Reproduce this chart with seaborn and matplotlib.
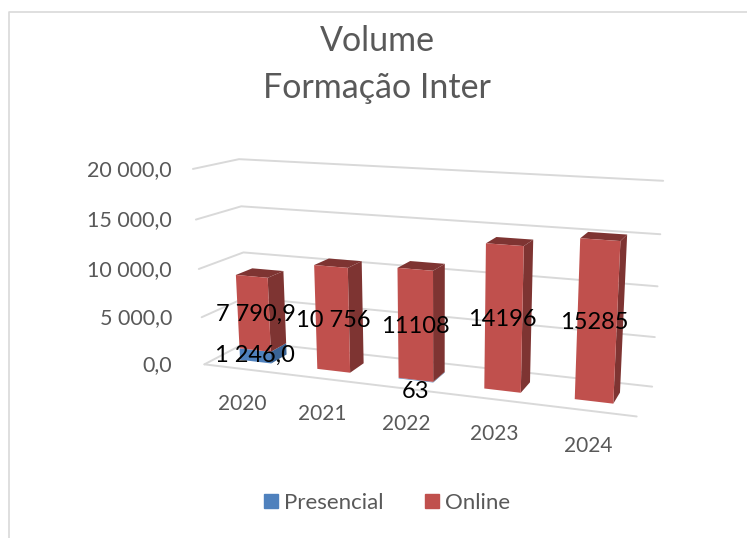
import numpy as np
import pandas as pd
import matplotlib
matplotlib.use("Agg")
import matplotlib.pyplot as plt
import matplotlib.transforms as mtransforms
from matplotlib.patches import Patch, Polygon
import seaborn as sns

years = ["2020", "2021", "2022", "2023", "2024"]
presencial = [1246.0, 0, 63, 0, 0]
online = [7790.9, 10756, 11108, 14196, 15285]
online_labels = ["7 790,9", "10 756", "11108", "14196", "15285"]
presencial_labels = ["1 246,0", "", "63", "", ""]
value_ticks = [0, 5000, 10000, 15000, 20000]
value_tick_labels = ["0,0", "5 000,0", "10 000,0", "15 000,0", "20 000,0"]

BLUE, RED = "#4F81BD", "#C0504D"
BLUE_DARK, RED_DARK = "#3A6496", "#7E3432"
GREY_TEXT, GREY_LINE = "#595959", "#D9D9D9"
FRONT, BACK = 0.3, 0.68  # depth of the bars inside the floor
N_CAT = len(years)
Z_MAX = value_ticks[-1]

# camera calibration: box corners (x, depth, value) -> pixel in the picture
box_world = np.array([
    [0, 0, 0], [0, 0, 1], [0, 1, 0], [0, 1, 1],
    [1, 1, 0], [1, 1, 1], [1, 0, 0],
], dtype=float)
box_pixel = np.array([
    [205, 362], [192, 170], [247, 344], [240, 158],
    [652, 385], [663, 181], [637, 418],
], dtype=float)

rows, rhs = [], []
for (wx, wy, wz), (u, v) in zip(box_world, box_pixel):
    rows.append([wx, wy, wz, 1, 0, 0, 0, 0, -u * wx, -u * wy, -u * wz])
    rows.append([0, 0, 0, 0, wx, wy, wz, 1, -v * wx, -v * wy, -v * wz])
    rhs += [u, v]
cam = np.append(np.linalg.lstsq(np.array(rows), np.array(rhs), rcond=None)[0], 1).reshape(3, 4)


def project(x, depth, z):
    """Category position, depth 0-1 and value to picture pixels"""
    x, depth, z = np.broadcast_arrays(np.asarray(x, float) / N_CAT, depth, np.asarray(z, float) / Z_MAX)
    pts = np.stack([x, depth, z, np.ones_like(x)], axis=-1) @ cam.T
    return pts[..., :2] / pts[..., 2:]


class FaceTransform(mtransforms.Transform):
    """Puts a (category, value) plane at a given depth of the 3D box"""
    input_dims = 2
    output_dims = 2

    def __init__(self, face_depth):
        super().__init__()
        self.face_depth = face_depth

    def transform_non_affine(self, values):
        return project(values[:, 0], self.face_depth, values[:, 1])


sns.set_theme(style="white")
plt.rcParams["font.family"] = ["Lato", "DejaVu Sans"]

fig = plt.figure(figsize=(7.47, 5.38), dpi=100)
ax = fig.add_axes([0, 0, 1, 1])

pos = np.arange(N_CAT) + 0.5
df = pd.DataFrame({"pos": pos, "presencial": presencial, "online": online})

# seaborn makes the front faces, they are moved into the box afterwards
sns.barplot(data=df, x="pos", y="presencial", native_scale=True, width=0.41,
            color=BLUE, saturation=1, linewidth=0, ax=ax)
n_blue = len(ax.patches)
sns.barplot(data=df, x="pos", y="online", native_scale=True, width=0.41,
            color=RED, saturation=1, linewidth=0, ax=ax)
blue_bars = list(ax.patches[:n_blue])
red_bars = list(ax.patches[n_blue:])
for bar, base in zip(red_bars, presencial):
    bar.set_y(base)

front = FaceTransform(FRONT) + ax.transData
for bar in blue_bars + red_bars:
    bar.set_transform(front)
    bar.set_clip_on(False)
    bar.set_zorder(5)


def add_faces(bar, side_col, top_col=None):
    x0, x1 = bar.get_x(), bar.get_x() + bar.get_width()
    z0, z1 = bar.get_y(), bar.get_y() + bar.get_height()
    side = project([x1, x1, x1, x1], [FRONT, BACK, BACK, FRONT], [z0, z0, z1, z1])
    ax.add_patch(Polygon(side, closed=True, fc=side_col, lw=0, zorder=4, clip_on=False))
    if top_col:
        top = project([x0, x1, x1, x0], [FRONT, FRONT, BACK, BACK], [z1] * 4)
        ax.add_patch(Polygon(top, closed=True, fc=top_col, lw=0, zorder=4, clip_on=False))


for bar in blue_bars:
    if bar.get_height() > 0:
        add_faces(bar, BLUE_DARK)
for bar in red_bars:
    add_faces(bar, RED_DARK, RED_DARK)

# walls and floor
for val in value_ticks:
    wall = project([0, 0, N_CAT], [0, 1, 1], [val] * 3)
    ax.plot(wall[:, 0], wall[:, 1], color=GREY_LINE, lw=1.4, zorder=1, clip_on=False)
floor = project([0, N_CAT], [0, 0], [0, 0])
ax.plot(floor[:, 0], floor[:, 1], color=GREY_LINE, lw=1.4, zorder=1, clip_on=False)

# value and category labels
for val, lab in zip(value_ticks, value_tick_labels):
    py = project(0, 0, val)[1]
    ax.text(172, py + 1, lab, ha="right", va="center", fontsize=15.5, color=GREY_TEXT, zorder=6)
for p, lab in zip(pos, years):
    px, py = project(p, 0, 0)
    ax.text(px, py + 35, lab, ha="center", va="center", fontsize=15, color=GREY_TEXT, zorder=6)

# data labels in the middle of each segment
mid = (FRONT + BACK) / 2
for p, base, val, lab in zip(pos, presencial, online, online_labels):
    px, py = project(p, mid, base + val / 2)
    ax.text(px - 6, py + 5, lab, ha="center", va="center", fontsize=17, color="black", zorder=7)
for p, val, lab in zip(pos, presencial, presencial_labels):
    if lab:
        px, py = project(p, FRONT, val / 2)
        ax.text(px, py + (-1 if val > 500 else 11), lab, ha="center", va="center",
                fontsize=17, color="black", zorder=7)

ax.text(377, 41, "Volume", ha="center", va="center", fontsize=24.5, color=GREY_TEXT)
ax.text(377, 88, "Formação Inter", ha="center", va="center", fontsize=24.5, color=GREY_TEXT)

handles = [Patch(color=BLUE, label="Presencial"), Patch(color=RED, label="Online")]
ax.legend(handles=handles, loc="center", bbox_to_anchor=(387, 503),
          bbox_transform=ax.transData, ncol=2, frameon=False, fontsize=16,
          labelcolor=GREY_TEXT, handlelength=0.63, handleheight=0.63,
          handletextpad=0.25, columnspacing=1.9)

# chart frame
ax.plot([9, 9, 747], [538, 11.5, 11.5], color=GREY_LINE, lw=1.2, clip_on=False)

ax.set_xlim(0, 747)
ax.set_ylim(538, 0)
ax.axis("off")

fig.savefig("out.png", dpi=100)
